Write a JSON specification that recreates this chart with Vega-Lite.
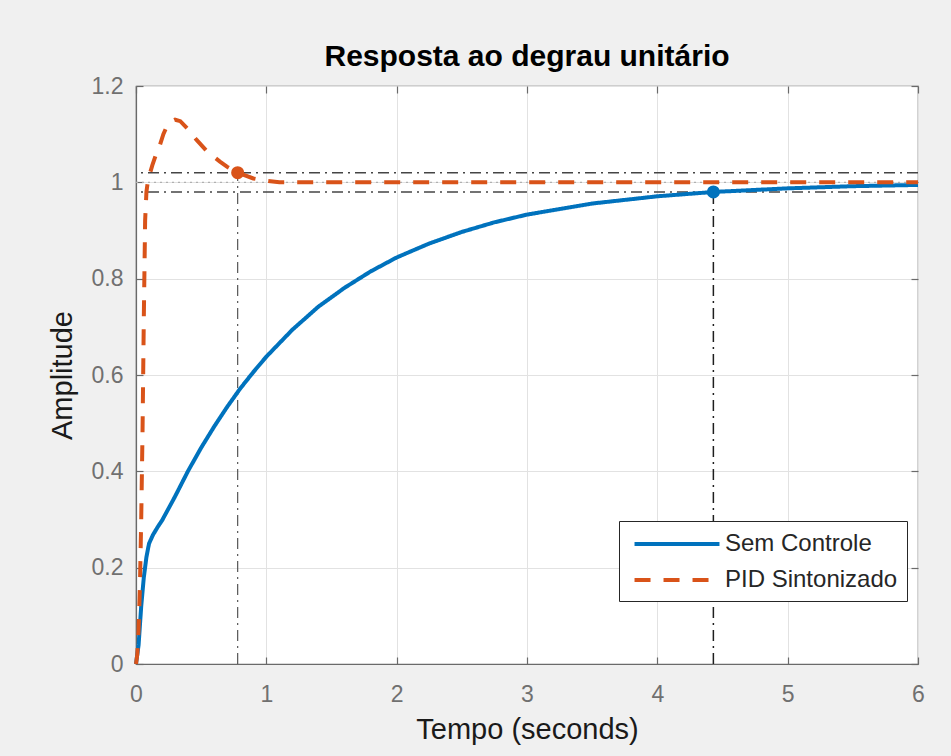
{
  "$schema": "https://vega.github.io/schema/vega-lite/v6.json",
  "width": 782,
  "height": 578,
  "autosize": {"type": "none"},
  "padding": {"left": 136, "top": 86, "right": 33, "bottom": 92},
  "background": "#f0f0f0",
  "title": {
    "text": "Resposta ao degrau unitário",
    "font": "Liberation Sans",
    "fontSize": 30,
    "fontWeight": "bold",
    "color": "#000000",
    "anchor": "middle",
    "frame": "group",
    "baseline": "alphabetic",
    "offset": -21
  },
  "config": {
    "font": "Liberation Sans",
    "view": {"fill": "white", "stroke": "#6a6a6a", "strokeWidth": 1.2}
  },
  "datasets": {
    "curves": [
      {"t": 0, "amp": 0, "series": "Sem Controle"},
      {"t": 0.02, "amp": 0.04, "series": "Sem Controle"},
      {"t": 0.04, "amp": 0.12, "series": "Sem Controle"},
      {"t": 0.06, "amp": 0.18, "series": "Sem Controle"},
      {"t": 0.08, "amp": 0.222, "series": "Sem Controle"},
      {"t": 0.1, "amp": 0.25, "series": "Sem Controle"},
      {"t": 0.13, "amp": 0.268, "series": "Sem Controle"},
      {"t": 0.17, "amp": 0.286, "series": "Sem Controle"},
      {"t": 0.2, "amp": 0.298, "series": "Sem Controle"},
      {"t": 0.3, "amp": 0.348, "series": "Sem Controle"},
      {"t": 0.4, "amp": 0.401, "series": "Sem Controle"},
      {"t": 0.5, "amp": 0.449, "series": "Sem Controle"},
      {"t": 0.6, "amp": 0.493, "series": "Sem Controle"},
      {"t": 0.7, "amp": 0.534, "series": "Sem Controle"},
      {"t": 0.8, "amp": 0.572, "series": "Sem Controle"},
      {"t": 0.9, "amp": 0.606, "series": "Sem Controle"},
      {"t": 1.0, "amp": 0.638, "series": "Sem Controle"},
      {"t": 1.2, "amp": 0.694, "series": "Sem Controle"},
      {"t": 1.4, "amp": 0.742, "series": "Sem Controle"},
      {"t": 1.6, "amp": 0.781, "series": "Sem Controle"},
      {"t": 1.8, "amp": 0.815, "series": "Sem Controle"},
      {"t": 2.0, "amp": 0.844, "series": "Sem Controle"},
      {"t": 2.25, "amp": 0.873, "series": "Sem Controle"},
      {"t": 2.5, "amp": 0.897, "series": "Sem Controle"},
      {"t": 2.75, "amp": 0.917, "series": "Sem Controle"},
      {"t": 3.0, "amp": 0.933, "series": "Sem Controle"},
      {"t": 3.5, "amp": 0.956, "series": "Sem Controle"},
      {"t": 4.0, "amp": 0.971, "series": "Sem Controle"},
      {"t": 4.43, "amp": 0.98, "series": "Sem Controle"},
      {"t": 5.0, "amp": 0.9875, "series": "Sem Controle"},
      {"t": 5.5, "amp": 0.992, "series": "Sem Controle"},
      {"t": 6.0, "amp": 0.9946, "series": "Sem Controle"},
      {"t": 0, "amp": 0, "series": "PID Sintonizado"},
      {"t": 0.01, "amp": 0.02, "series": "PID Sintonizado"},
      {"t": 0.02, "amp": 0.07, "series": "PID Sintonizado"},
      {"t": 0.03, "amp": 0.16, "series": "PID Sintonizado"},
      {"t": 0.04, "amp": 0.3, "series": "PID Sintonizado"},
      {"t": 0.05, "amp": 0.48, "series": "PID Sintonizado"},
      {"t": 0.06, "amp": 0.72, "series": "PID Sintonizado"},
      {"t": 0.07, "amp": 0.92, "series": "PID Sintonizado"},
      {"t": 0.08, "amp": 0.98, "series": "PID Sintonizado"},
      {"t": 0.09, "amp": 1.0, "series": "PID Sintonizado"},
      {"t": 0.1, "amp": 1.012, "series": "PID Sintonizado"},
      {"t": 0.125, "amp": 1.035, "series": "PID Sintonizado"},
      {"t": 0.15, "amp": 1.055, "series": "PID Sintonizado"},
      {"t": 0.184, "amp": 1.078, "series": "PID Sintonizado"},
      {"t": 0.21, "amp": 1.1, "series": "PID Sintonizado"},
      {"t": 0.235, "amp": 1.115, "series": "PID Sintonizado"},
      {"t": 0.27, "amp": 1.126, "series": "PID Sintonizado"},
      {"t": 0.3, "amp": 1.13, "series": "PID Sintonizado"},
      {"t": 0.34, "amp": 1.127, "series": "PID Sintonizado"},
      {"t": 0.4, "amp": 1.11, "series": "PID Sintonizado"},
      {"t": 0.465, "amp": 1.088, "series": "PID Sintonizado"},
      {"t": 0.55, "amp": 1.063, "series": "PID Sintonizado"},
      {"t": 0.644, "amp": 1.043, "series": "PID Sintonizado"},
      {"t": 0.7, "amp": 1.032, "series": "PID Sintonizado"},
      {"t": 0.78, "amp": 1.02, "series": "PID Sintonizado"},
      {"t": 0.9, "amp": 1.008, "series": "PID Sintonizado"},
      {"t": 1.0, "amp": 1.003, "series": "PID Sintonizado"},
      {"t": 1.1, "amp": 1.0, "series": "PID Sintonizado"},
      {"t": 2.0, "amp": 1.0, "series": "PID Sintonizado"},
      {"t": 3.0, "amp": 1.0, "series": "PID Sintonizado"},
      {"t": 4.0, "amp": 1.0, "series": "PID Sintonizado"},
      {"t": 5.0, "amp": 1.0, "series": "PID Sintonizado"},
      {"t": 6.0, "amp": 1.0, "series": "PID Sintonizado"}
    ],
    "hlines": [{"y": 1.02}, {"y": 0.98}],
    "steady": [{"y": 1.0}],
    "vlines": [
      {"t": 0.78, "y0": 0, "y1": 1.02, "series": "PID Sintonizado"},
      {"t": 4.43, "y0": 0, "y1": 0.98, "series": "Sem Controle"}
    ],
    "marks": [
      {"t": 0.78, "amp": 1.02, "series": "PID Sintonizado"},
      {"t": 4.43, "amp": 0.98, "series": "Sem Controle"}
    ]
  },
  "layer": [
    {
      "data": {"name": "steady"},
      "mark": {"type": "rule", "color": "#b0b0b0", "strokeWidth": 1.3, "strokeDash": [2, 4]},
      "encoding": {
        "y": {
          "field": "y", "type": "quantitative",
          "scale": {"domain": [0, 1.2], "nice": false, "zero": false},
          "axis": {
            "orient": "left",
            "values": [0, 0.2, 0.4, 0.6, 0.8, 1, 1.2],
            "format": "~g",
            "labelFlush": false,
            "grid": true, "gridColor": "#e2e2e2", "gridWidth": 1,
            "domain": true, "domainColor": "#6a6a6a", "domainWidth": 1.2,
            "ticks": true, "tickSize": -7, "tickColor": "#6a6a6a", "tickWidth": 1.2,
            "labelFont": "Liberation Sans", "labelFontSize": 23, "labelColor": "#707070", "labelPadding": 20,
            "title": "Amplitude", "titleFont": "Liberation Sans", "titleFontSize": 29, "titleFontWeight": "normal", "titleColor": "#1a1a1a", "titlePadding": 14
          }
        }
      }
    },
    {
      "data": {"name": "hlines"},
      "mark": {"type": "rule", "color": "#454545", "strokeWidth": 1.5, "strokeDash": [11, 5, 2, 5]},
      "encoding": {
        "y": {"field": "y", "type": "quantitative", "axis": null}
      }
    },
    {
      "data": {"name": "vlines"},
      "transform": [{"filter": "datum.series === 'PID Sintonizado'"}],
      "mark": {"type": "rule", "color": "#555555", "strokeWidth": 1.2, "strokeDash": [11, 5, 2, 5]},
      "encoding": {
        "x": {
          "field": "t", "type": "quantitative",
          "scale": {"domain": [0, 6], "nice": false, "zero": false},
          "axis": {
            "orient": "bottom",
            "values": [0, 1, 2, 3, 4, 5, 6],
            "format": "d",
            "labelFlush": false,
            "grid": true, "gridColor": "#e2e2e2", "gridWidth": 1,
            "domain": true, "domainColor": "#6a6a6a", "domainWidth": 1.2,
            "ticks": true, "tickSize": -7, "tickColor": "#6a6a6a", "tickWidth": 1.2,
            "labelFont": "Liberation Sans", "labelFontSize": 23, "labelColor": "#707070", "labelPadding": 26,
            "title": "Tempo (seconds)", "titleFont": "Liberation Sans", "titleFontSize": 29, "titleFontWeight": "normal", "titleColor": "#1a1a1a", "titlePadding": 9
          }
        },
        "y": {"field": "y0", "type": "quantitative", "axis": null},
        "y2": {"field": "y1"}
      }
    },
    {
      "data": {"name": "vlines"},
      "transform": [{"filter": "datum.series === 'Sem Controle'"}],
      "mark": {"type": "rule", "color": "#1e1e1e", "strokeWidth": 1.5, "strokeDash": [11, 5, 2, 5]},
      "encoding": {
        "x": {"field": "t", "type": "quantitative", "axis": null},
        "y": {"field": "y0", "type": "quantitative", "axis": null},
        "y2": {"field": "y1"}
      }
    },
    {
      "data": {"name": "curves"},
      "transform": [{"filter": "datum.series === 'Sem Controle'"}],
      "mark": {"type": "line", "strokeWidth": 4, "strokeCap": "butt"},
      "encoding": {
        "x": {
          "field": "t", "type": "quantitative",
          "axis": {
            "orient": "top", "values": [0, 1, 2, 3, 4, 5, 6], "labels": false, "grid": false, "domain": false,
            "ticks": true, "tickSize": -7, "tickColor": "#6a6a6a", "tickWidth": 1.2, "title": null,
            "minExtent": 0, "maxExtent": 0, "offset": 0
          }
        },
        "y": {
          "field": "amp", "type": "quantitative",
          "axis": {
            "orient": "right", "values": [0, 0.2, 0.4, 0.6, 0.8, 1, 1.2], "labels": false, "grid": false, "domain": false,
            "ticks": true, "tickSize": -7, "tickColor": "#6a6a6a", "tickWidth": 1.2, "title": null,
            "minExtent": 0, "maxExtent": 0
          }
        },
        "color": {
          "field": "series", "type": "nominal",
          "scale": {"domain": ["Sem Controle", "PID Sintonizado"], "range": ["#0072BD", "#D95319"]},
          "legend": {
            "orient": "none",
            "legendX": 483,
            "legendY": 435,
            "title": null,
            "strokeColor": "#262626",
            "fillColor": "white",
            "padding": 9,
            "labelFont": "Liberation Sans",
            "labelFontSize": 24,
            "labelColor": "#262626",
            "labelLimit": 400,
            "labelOffset": 34,
            "symbolType": "M-3.54,0H3.54",
            "symbolSize": 576,
            "symbolOffset": 35,
            "symbolStrokeWidth": 4,
            "rowPadding": 10
          }
        },
        "strokeDash": {
          "field": "series", "type": "nominal",
          "scale": {"domain": ["Sem Controle", "PID Sintonizado"], "range": [[1, 0], [16, 13]]},
          "legend": {
            "orient": "none",
            "legendX": 483,
            "legendY": 435,
            "title": null,
            "strokeColor": "#262626",
            "fillColor": "white",
            "padding": 9,
            "labelFont": "Liberation Sans",
            "labelFontSize": 24,
            "labelColor": "#262626",
            "labelLimit": 400,
            "labelOffset": 34,
            "symbolType": "M-3.54,0H3.54",
            "symbolSize": 576,
            "symbolOffset": 35,
            "symbolStrokeWidth": 4,
            "rowPadding": 10
          }
        }
      }
    },
    {
      "data": {"name": "curves"},
      "transform": [{"filter": "datum.series === 'PID Sintonizado'"}],
      "mark": {"type": "line", "strokeWidth": 4, "strokeCap": "butt"},
      "encoding": {
        "x": {"field": "t", "type": "quantitative", "axis": null},
        "y": {"field": "amp", "type": "quantitative", "axis": null},
        "color": {"field": "series", "type": "nominal"},
        "strokeDash": {"field": "series", "type": "nominal"}
      }
    },
    {
      "data": {"name": "marks"},
      "mark": {"type": "circle", "size": 170, "opacity": 1},
      "encoding": {
        "x": {"field": "t", "type": "quantitative", "axis": null},
        "y": {"field": "amp", "type": "quantitative", "axis": null},
        "fill": {
          "field": "series", "type": "nominal", "legend": null,
          "scale": {"domain": ["Sem Controle", "PID Sintonizado"], "range": ["#0072BD", "#D95319"]}
        }
      }
    }
  ],
  "resolve": {"axis": {"x": "independent", "y": "independent"}}
}
